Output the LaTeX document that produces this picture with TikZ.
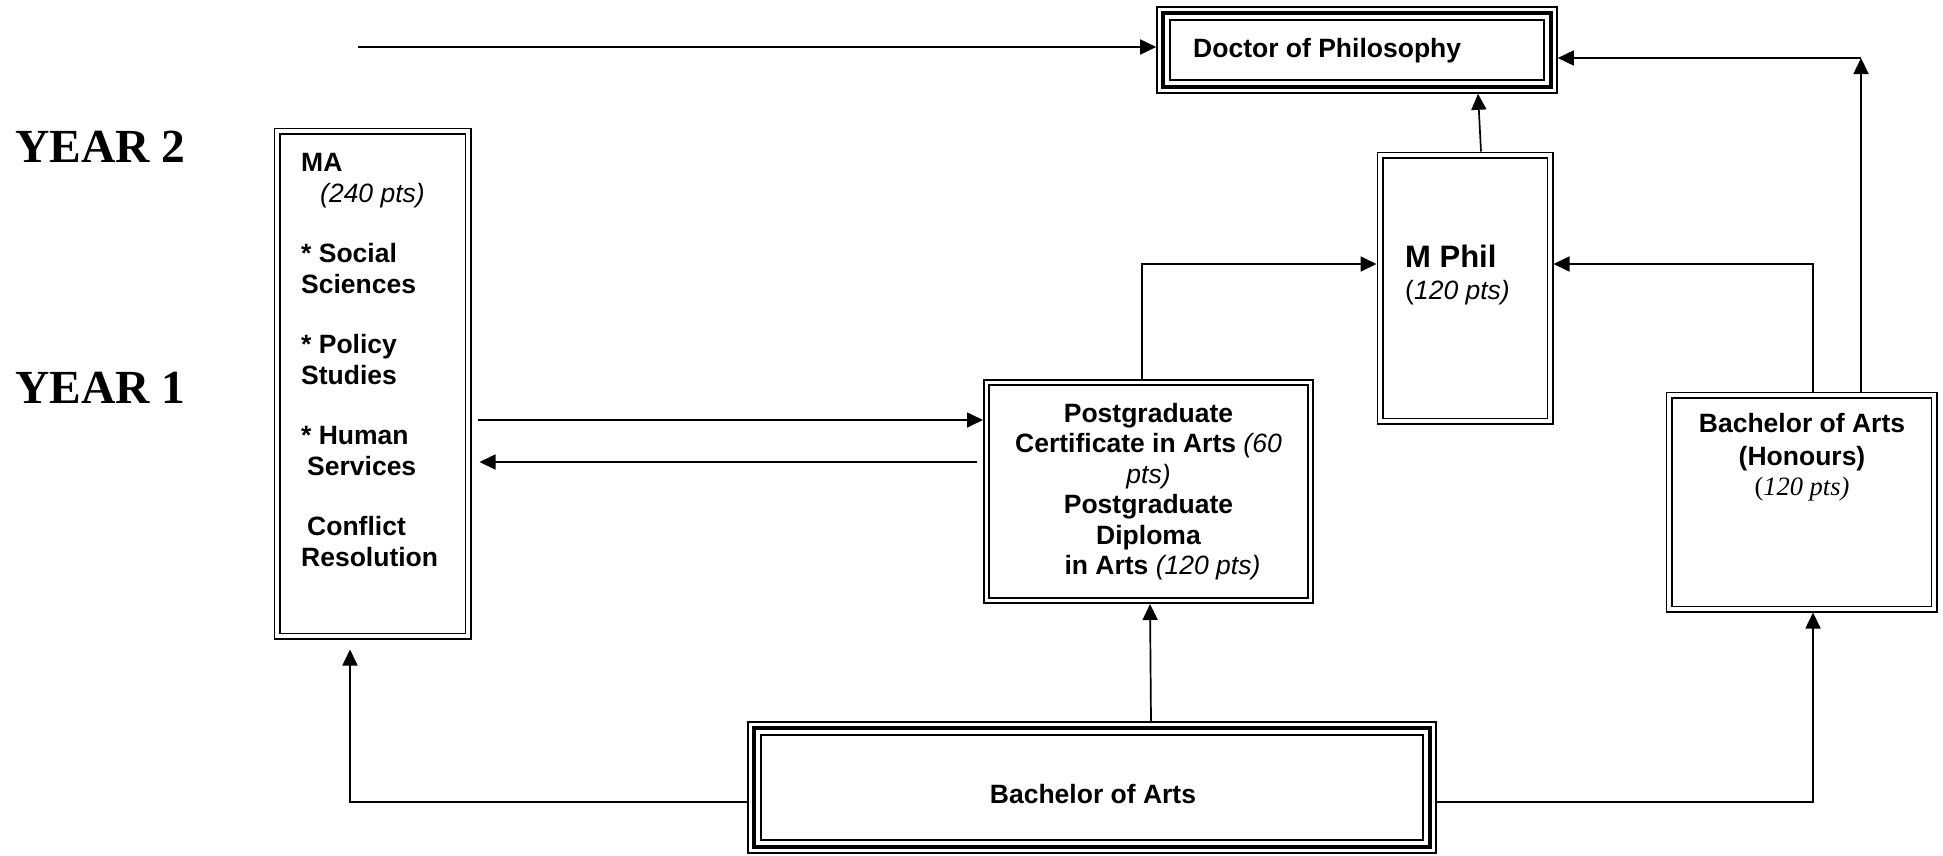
\documentclass[tikz,border=0pt]{standalone}
\usepackage{fontspec}
\setmainfont{Liberation Sans}
\newfontfamily\timesf{Liberation Serif}
\usetikzlibrary{arrows.meta,calc}
\newcommand\bodyfont{\fontsize{26.5}{30.5}\selectfont}
\begin{document}
\begin{tikzpicture}[x=1pt,y=-1pt,
  dbox/.style={draw, line width=1.8pt, double, double distance=3.4pt, outer sep=3.5pt, inner sep=0pt},
  tbox/.style={draw, line width=1.6pt, outer sep=0.8pt, inner sep=0pt},
  thickline/.style={line width=4.5pt},
  thinline/.style={line width=1.6pt},
  arr/.style={line width=1.7pt, -{Triangle[length=16pt,width=15pt]}},
  txt/.style={inner sep=0pt, font=\bodyfont\bfseries},
  yearlbl/.style={inner sep=0pt, anchor=base west, font=\timesf\bfseries\fontsize{47.5}{50}\selectfont}
]
\useasboundingbox (0,0) rectangle (1943,855);

% year labels
\node[yearlbl] (y2) at (15,162) {YEAR 2};
\node[yearlbl] (y1) at (15,403) {YEAR 1};

% boxes
\node[tbox, minimum width=400pt, minimum height=86pt] (phd) at (1357,50) {};
\draw[thickline] ([shift={(7pt,-7pt)}]phd.north west) rectangle ([shift={(-7pt,7pt)}]phd.south east);
\draw[thinline] ([shift={(14pt,-14pt)}]phd.north west) rectangle ([shift={(-14pt,14pt)}]phd.south east);

\node[tbox, minimum width=688pt, minimum height=131pt] (ba) at (1092,787.5) {};
\draw[thickline] ([shift={(7pt,-7pt)}]ba.north west) rectangle ([shift={(-7pt,7pt)}]ba.south east);
\draw[thinline] ([shift={(14pt,-14pt)}]ba.north west) rectangle ([shift={(-14pt,14pt)}]ba.south east);

\node[dbox, minimum width=191pt, minimum height=505pt] (ma) at (372.5,383.5) {};
\node[dbox, minimum width=324pt, minimum height=218pt] (pg) at (1148.5,491.5) {};
\node[dbox, minimum width=170pt, minimum height=266pt] (mphil) at (1465,288) {};
\node[dbox, minimum width=265pt, minimum height=214pt] (bahons) at (1801.5,502) {};

% texts
\node[txt, anchor=base west] (tphd) at (1193,57) {Doctor of Philosophy};
\node[txt, anchor=base] (tba) at (1093,803) {Bachelor of Arts};
\node[txt, anchor=north west, align=left] (tma) at (301,153) {MA\\[0.5pt]
\hspace*{19pt}\textit{\mdseries(240 pts)}\\[29.5pt]
* Social\\[0.5pt]
Sciences\\[29.5pt]
* Policy\\[0.5pt]
Studies\\[29.5pt]
* Human\\[0.5pt]
\hspace*{6pt}Services\\[29.5pt]
\hspace*{6pt}Conflict\\[0.5pt]
Resolution};
\node[txt, anchor=north, align=center] (tpg) at (1148.5,403) {Postgraduate\\
Certificate in Arts \textit{\mdseries(60}\\
\textit{\mdseries pts)}\\
Postgraduate\\
Diploma\\
\hspace*{28pt}in Arts \textit{\mdseries(120 pts)}};
\node[txt, anchor=north west, align=left] (tmphil) at (1405,245) {{\fontsize{31}{32}\selectfont M Phil}\\[1.5pt]
{\mdseries(\textit{120 pts)}}};
\node[txt, anchor=north, align=center] (tbahons) at (1802,413) {Bachelor of Arts\\[2.5pt]
(Honours)\\[-0.5pt]
{\timesf\mdseries(\textit{120 pts)}}};

% connector bend points
\coordinate (phdin) at (358,47);
\coordinate (k1) at (1861,58);
\coordinate (k2) at (1142,264);
\coordinate (k3) at (1813,264);
\coordinate (k4) at (478,420);
\coordinate (k5) at (977,462);
\coordinate (k6) at (350,802);
\coordinate (k7) at (1813,802);

% connectors
\draw[arr] (phdin) -- (phdin -| phd.west);
\draw[arr] (k1 |- bahons.north) -- (k1);
\draw[arr] (k1) -- (k1 -| phd.east);
\draw[arr] ([xshift=16pt]mphil.north) -- ([xshift=121pt]phd.south);
\draw[arr] (k2 |- pg.north) -- (k2) -- (k2 -| mphil.west);
\draw[arr] (k3 |- bahons.north) -- (k3) -- (k3 -| mphil.east);
\draw[arr] (k4) -- (k4 -| pg.west);
\draw[arr] (k5) -- ([xshift=8pt]k5 -| ma.east);
\draw[arr] (k6 -| ba.west) -- (k6) -- ([yshift=-10pt]k6 |- ma.south);
\draw[arr] ([xshift=59pt]ba.north) -- ([xshift=1.5pt]pg.south);
\draw[arr] (k7 -| ba.east) -- (k7) -- (k7 |- bahons.south);
\end{tikzpicture}
\end{document}
